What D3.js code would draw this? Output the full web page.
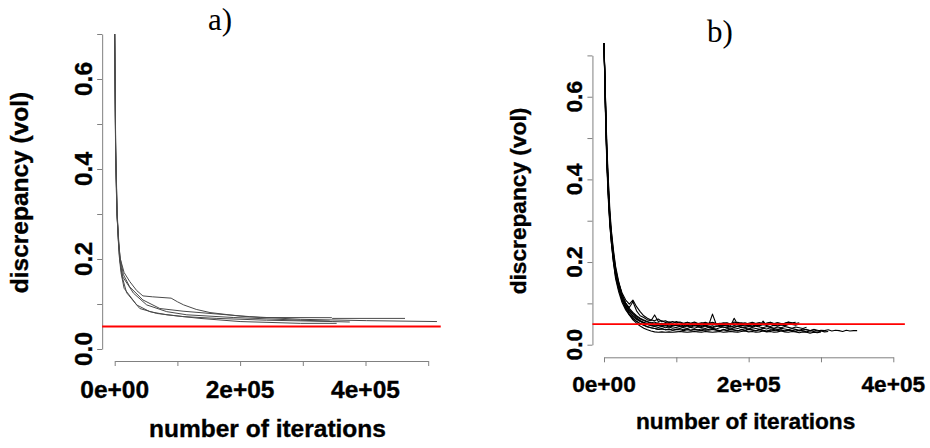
<!DOCTYPE html>
<html><head><meta charset="utf-8">
<script src="https://cdn.jsdelivr.net/npm/d3@7"></script>
<style>body{margin:0;background:#fff}svg{display:block}</style>
</head><body><svg id="c" width="930" height="448"></svg>
<script>
// ---------- data ----------
const panelTitles = ["a)", "b)"];
const yLabel = "discrepancy (vol)";
const xLabel = "number of iterations";
const yTicks = [0, 0.1, 0.2, 0.3, 0.4, 0.5, 0.6, 0.7];
const yTickLabels = ["0.0", "", "0.2", "", "0.4", "", "0.6", ""];
const xTicksA = [0, 1e5, 2e5, 3e5, 4e5, 5e5];
const xTickLabelsA = ["0e+00", "", "2e+05", "", "4e+05", ""];
const xTicksB = [0, 1e5, 2e5, 3e5, 4e5];
const xTickLabelsB = ["0e+00", "", "2e+05", "", "4e+05"];
const targetLevel = 0.05;

// panel a: runs as [iteration, discrepancy]
const runA1 = [[0,0.70],[1500,0.46],[3500,0.31],[6000,0.235],[9000,0.20],[15000,0.17],[24000,0.15],[35000,0.13],[45000,0.118],[60000,0.116],[90000,0.113],[100000,0.105],[110000,0.098],[130000,0.088],[152000,0.081],[200000,0.073],[232000,0.070],[346000,0.0696],[347000,0.068],[463000,0.068]];
const runA2 = [[0,0.70],[1500,0.43],[3500,0.30],[6000,0.24],[9000,0.20],[14000,0.165],[24000,0.138],[45000,0.109],[72000,0.090],[109000,0.084],[152000,0.079],[215000,0.072],[296000,0.066],[402000,0.063],[514000,0.061]];
const runA3 = [[0,0.70],[1500,0.44],[4000,0.29],[8000,0.20],[12000,0.16],[19000,0.125],[40000,0.090],[67000,0.079],[109000,0.072],[163000,0.068],[242000,0.064],[348000,0.061],[375000,0.060]];
const runA4 = [[0,0.70],[1500,0.42],[3500,0.31],[7000,0.21],[10000,0.17],[15000,0.135],[35000,0.098],[56000,0.083],[83000,0.076],[136000,0.068],[200000,0.061],[296000,0.057],[354000,0.057]];
const runA5 = [[0,0.70],[1500,0.45],[4000,0.30],[8000,0.20],[13000,0.16],[30000,0.124],[51000,0.098],[83000,0.083],[115000,0.076],[189000,0.070],[296000,0.064],[343000,0.062]];

// panel b: shared iteration grid, each run a list of values along it
const iterB = [0,2000,4000,6000,8000,10000,13000,16000,20000,25000,30000,35000,40000,45000,50000,
  55000,60000,65000,70000,75000,80000,85000,90000,95000,100000,105000,110000,115000,120000,125000,
  130000,135000,140000,145000,150000,155000,160000,165000,170000,175000,180000,185000,190000,195000,
  200000,205000,210000,215000,220000,225000,230000,235000,240000,245000,250000,255000,260000,265000,
  270000,275000,280000,285000,290000,295000,300000,305000,310000,315000,320000,325000,330000,335000,
  340000,345000,350000];
const runB1 = [0.73,0.59,0.46,0.38,0.31,0.27,0.22,0.18,0.148,0.118,0.1,0.09,0.104,0.082,0.07,
  0.066,0.06,0.058,0.072,0.056,0.058,0.054,0.055,0.052,0.056,0.053,0.05,0.054,0.052,0.055,0.051,0.053,0.05,0.052,0.054,0.051,0.05,0.053,0.052,0.05,0.055,0.051,0.053,0.05,0.052,0.054,0.051,0.053,0.05,0.052,0.054,0.05,0.053,0.051,0.052,0.055,0.053,0.054];
const runB2 = [0.73,0.57,0.44,0.36,0.30,0.255,0.205,0.17,0.14,0.112,0.095,0.083,0.076,0.068,0.062,
  0.058,0.055,0.052,0.05,0.053,0.049,0.051,0.048,0.05,0.047,0.049,0.051,0.048,0.05,0.047,0.049,0.048,0.052,0.049,0.074,0.05,0.047,0.049,0.048,0.05,0.047,0.049,0.051,0.048,0.046,0.049,0.05,0.047,0.049,0.048,0.05,0.047,0.049,0.051,0.048,0.05,0.049,0.047,0.05];
const runB3 = [0.73,0.6,0.47,0.39,0.32,0.275,0.225,0.185,0.152,0.12,0.1,0.088,0.078,0.07,0.064,
  0.06,0.056,0.053,0.055,0.05,0.052,0.049,0.051,0.047,0.05,0.048,0.046,0.049,0.047,0.05,0.046,0.048,0.045,0.049,0.047,0.05,0.046,0.048,0.047,0.045,0.064,0.048,0.046,0.049,0.047,0.045,0.048,0.046,0.049,0.047,0.05,0.046,0.048,0.049,0.047,0.05,0.052];
const runB4 = [0.73,0.58,0.45,0.37,0.305,0.26,0.21,0.172,0.142,0.113,0.094,0.08,0.07,0.063,0.058,
  0.054,0.051,0.049,0.047,0.049,0.046,0.048,0.045,0.047,0.049,0.046,0.044,0.047,0.045,0.048,0.046,0.044,0.047,0.045,0.043,0.046,0.044,0.047,0.045,0.043,0.046,0.044,0.047,0.045,0.046,0.044,0.047,0.045,0.057,0.046,0.044,0.047,0.045,0.048,0.046,0.049];
const runB5 = [0.73,0.56,0.43,0.35,0.29,0.25,0.2,0.165,0.135,0.108,0.09,0.078,0.068,0.061,0.056,
  0.052,0.049,0.047,0.045,0.047,0.044,0.046,0.043,0.045,0.047,0.044,0.042,0.045,0.043,0.046,0.044,0.042,0.045,0.043,0.041,0.044,0.046,0.043,0.041,0.044,0.042,0.045,0.043,0.041,0.044,0.042,0.045,0.043,0.041,0.044,0.042,0.04,0.043,0.041,0.044,0.042,0.04,0.043,0.041,0.039,0.042];
const runB6 = [0.73,0.6,0.48,0.4,0.33,0.28,0.23,0.19,0.155,0.122,0.1,0.085,0.074,0.065,0.058,
  0.053,0.049,0.046,0.044,0.042,0.044,0.041,0.043,0.04,0.042,0.044,0.041,0.039,0.042,0.04,0.043,0.041,0.039,0.042,0.04,0.038,0.041,0.043,0.04,0.038,0.041,0.039,0.042,0.04,0.038,0.041,0.039,0.037,0.04,0.038,0.041,0.039,0.037,0.04,0.038,0.036,0.039,0.037,0.035,0.038,0.036,0.034,0.037,0.035,0.033];
const runB7 = [0.73,0.57,0.44,0.36,0.295,0.25,0.2,0.16,0.13,0.102,0.084,0.072,0.063,0.056,0.051,
  0.047,0.044,0.041,0.039,0.037,0.039,0.036,0.038,0.035,0.037,0.039,0.036,0.038,0.035,0.037,0.036,0.038,0.035,0.037,0.039,0.036,0.034,0.037,0.035,0.038,0.036,0.034,0.037,0.035,0.038,0.036,0.034,0.037,0.035,0.033,0.036,0.034,0.037,0.035,0.033,0.036,0.034,0.032,0.035,0.033,0.031,0.034,0.032,0.03,0.033,0.031,0.032];
const runB8 = [0.73,0.58,0.45,0.37,0.3,0.26,0.21,0.17,0.138,0.108,0.088,0.074,0.064,0.057,0.051,
  0.047,0.043,0.041,0.039,0.037,0.038,0.036,0.037,0.035,0.037,0.036,0.034,0.036,0.035,0.037,0.035,0.034,0.036,0.035,0.037,0.035,0.033,0.036,0.034,0.036,0.035,0.033,0.036,0.034,0.037,0.035,0.033,0.036,0.034,0.032,0.035,0.037,0.034,0.036,0.033,0.035,0.034,0.036,0.033,0.035,0.037,0.034,0.036,0.033,0.035,0.034,0.036,0.033,0.035,0.034,0.032,0.035,0.033,0.034,0.034];
const runB9 = [0.73,0.59,0.46,0.38,0.31,0.265,0.215,0.175,0.142,0.11,0.088,0.072,0.06,0.052,0.045,
  0.04,0.036,0.033,0.031,0.03,0.031,0.03,0.031,0.03,0.031,0.032,0.031,0.03,0.031,0.032,0.031,0.03,0.032,0.031,0.03,0.031,0.032,0.03,0.031,0.032,0.031,0.03,0.032,0.033,0.031,0.032,0.03,0.031,0.033,0.031,0.032,0.03,0.031,0.033,0.031,0.03,0.032,0.031,0.029,0.031,0.03,0.028,0.03,0.029,0.031];
const runB10 = [0.73,0.57,0.45,0.37,0.31,0.265,0.215,0.18,0.15,0.125,0.108,0.098,0.108,0.092,0.08,
  0.07,0.064,0.06,0.058,0.062,0.056,0.058,0.054,0.056,0.053,0.055,0.052,0.054,0.051,0.053,0.05,0.052,0.054,0.051,0.053,0.05,0.052,0.051,0.053,0.05,0.052,0.054,0.051,0.053,0.05,0.052,0.051,0.053,0.05,0.052,0.054,0.051,0.053,0.05,0.052,0.054,0.052,0.051,0.053];

// ---------- drawing ----------
const svg = d3.select("#c");
const SANS = "'Liberation Sans', Arial, Helvetica, sans-serif";
const SERIF = "'Liberation Serif', 'DejaVu Serif', serif";

function boldText(sel, size) {
  return sel.attr("font-family", SANS).attr("font-weight", "bold")
    .attr("font-size", size).attr("fill", "#000")
    .attr("stroke", "#000").attr("stroke-width", 0.35);
}

function drawPanel(cfg) {
  const g = svg.append("g");
  const x = d3.scaleLinear().domain(cfg.xDomain).range(cfg.xRange);
  const y = d3.scaleLinear().domain([0, 0.7]).range(cfg.yRange);
  const span = cfg.xDomain[1] - cfg.xDomain[0];
  const yAxisX = x(cfg.xDomain[0] - 0.04 * span);
  const xAxisY = cfg.xAxisY;

  // y axis
  const ya = g.append("g").attr("transform", `translate(${yAxisX},0)`)
    .call(d3.axisLeft(y).tickValues(yTicks).tickSize(5).tickSizeOuter(0).tickFormat(""));
  ya.selectAll("path,line").attr("stroke", "#808080").attr("stroke-width", 1);
  yTicks.forEach((t, i) => {
    if (!yTickLabels[i]) return;
    boldText(g.append("text").text(yTickLabels[i])
      .attr("transform", `translate(${yAxisX - 10},${y(t)}) rotate(-90)`)
      .attr("text-anchor", "middle"), cfg.tickFont);
  });

  // x axis
  const xa = g.append("g").attr("transform", `translate(0,${xAxisY})`)
    .call(d3.axisBottom(x).tickValues(cfg.xTicks).tickSize(5).tickSizeOuter(0).tickFormat(""));
  xa.selectAll("path,line").attr("stroke", "#808080").attr("stroke-width", 1);
  cfg.xTicks.forEach((t, i) => {
    if (!cfg.xTickLabels[i]) return;
    boldText(g.append("text").text(cfg.xTickLabels[i])
      .attr("x", x(t)).attr("y", cfg.xTickBaseline)
      .attr("text-anchor", "middle"), cfg.tickFont);
  });

  // axis titles
  boldText(g.append("text").text(xLabel)
    .attr("x", cfg.xTitleX).attr("y", cfg.xTitleY)
    .attr("text-anchor", "middle"), cfg.titleFont);
  boldText(g.append("text").text(yLabel)
    .attr("transform", `translate(${cfg.yTitleX},${(cfg.yRange[0] + cfg.yRange[1]) / 2 + 1}) rotate(-90)`)
    .attr("text-anchor", "middle"), cfg.titleFont);

  // panel title
  g.append("text").text(cfg.title)
    .attr("x", cfg.titleX).attr("y", cfg.titleY)
    .attr("text-anchor", "middle")
    .attr("font-family", SERIF).attr("font-size", 31).attr("fill", "#000");

  // runs
  const line = d3.line().x(d => x(d[0])).y(d => y(d[1]));
  g.append("g").selectAll("path").data(cfg.runs).join("path")
    .attr("d", line).attr("fill", "none")
    .attr("stroke", cfg.runColor).attr("stroke-width", cfg.runWidth)
    .attr("stroke-linejoin", "round");

  // target level across the plot region
  g.append("line")
    .attr("x1", x(cfg.xDomain[0] - 0.04 * span)).attr("x2", x(cfg.xDomain[1] + 0.04 * span))
    .attr("y1", y(targetLevel)).attr("y2", y(targetLevel))
    .attr("stroke", "#ff0000").attr("stroke-width", cfg.redWidth);
}

drawPanel({
  title: panelTitles[0], titleX: 220, titleY: 30,
  xDomain: [0, 5e5], xRange: [114.7, 428.2], yRange: [349, 34],
  xAxisY: 361, xTicks: xTicksA, xTickLabels: xTickLabelsA, xTickBaseline: 398,
  tickFont: 24.5, titleFont: 24.5,
  xTitleX: 267.5, xTitleY: 436.5, yTitleX: 28,
  runs: [runA1, runA2, runA3, runA4, runA5],
  runColor: "#4a4a4a", runWidth: 1, redWidth: 2.2
});

const runsB = [runB1, runB2, runB3, runB4, runB5, runB6, runB7, runB8, runB9, runB10]
  .map(vals => vals.map((v, i) => [iterB[i], v]));

drawPanel({
  title: panelTitles[1], titleX: 720, titleY: 42,
  xDomain: [0, 4e5], xRange: [604, 893.3], yRange: [344.7, 55.4],
  xAxisY: 357.3, xTicks: xTicksB, xTickLabels: xTickLabelsB, xTickBaseline: 391.5,
  tickFont: 22.7, titleFont: 22.7,
  xTitleX: 745.7, xTitleY: 429, yTitleX: 526,
  runs: runsB,
  runColor: "#000", runWidth: 1.1, redWidth: 1.7
});
</script>
</body></html>
